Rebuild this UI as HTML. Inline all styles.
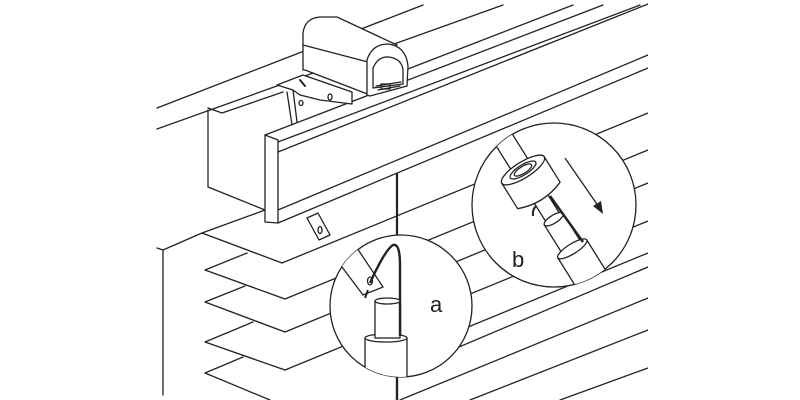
<!DOCTYPE html>
<html><head><meta charset="utf-8"><style>
html,body{margin:0;padding:0;background:#fff;}
svg{display:block}
</style></head><body>
<svg width="800" height="400" viewBox="0 0 800 400" xmlns="http://www.w3.org/2000/svg">
<defs>
<clipPath id="ca"><circle cx="401" cy="306" r="71"/></clipPath>
<clipPath id="cb"><circle cx="554" cy="205" r="82"/></clipPath>
<clipPath id="pg"><rect x="0" y="0" width="648" height="400"/></clipPath>
</defs>
<rect width="800" height="400" fill="#fff"/>
<g clip-path="url(#pg)" stroke="#222" stroke-width="1.3" fill="none" stroke-linecap="round" stroke-linejoin="round">
<!-- top long lines -->
<line x1="157" y1="108" x2="423" y2="5"/>
<line x1="157" y1="129" x2="503" y2="5"/>
<line x1="395" y1="74" x2="573" y2="5"/>
<line x1="265" y1="135" x2="603" y2="5"/>
<line x1="278" y1="142" x2="640" y2="5"/>
<line x1="278" y1="152" x2="648" y2="4"/>
<line x1="278" y1="210" x2="648" y2="55"/>
<line x1="278" y1="223" x2="648" y2="68"/>
<!-- slat lines to right -->
<line x1="282" y1="263" x2="648" y2="113"/>
<line x1="285" y1="299" x2="648" y2="150"/>
<line x1="285" y1="332" x2="648" y2="183"/>
<line x1="285" y1="370" x2="648" y2="221"/>
<line x1="400" y1="355" x2="648" y2="253"/>
<line x1="400" y1="372" x2="648" y2="267"/>
<line x1="400" y1="400" x2="648" y2="298"/>
<line x1="470" y1="400" x2="648" y2="330"/>
<line x1="560" y1="400" x2="648" y2="368"/>
<!-- left headrail box -->
<line x1="163" y1="250" x2="163" y2="395"/>
<polyline points="157,248 163,250 202,233 265,210"/>
<polyline points="208,110 208,187 265,210"/>
<polyline points="208,108 222,113 283,92"/>
<line x1="287" y1="92" x2="292" y2="125"/>
<!-- slats zigzag -->
<polyline points="202,233 282,263"/>
<polyline points="247,253 205,270 285,299"/>
<polyline points="245,286 205,302 285,332"/>
<polyline points="253,322 205,342 285,370"/>
<polyline points="243,357 205,373 270,400"/>
<!-- valance end face -->
<polygon points="265,135 278,140 278,223 265,222" fill="#fff"/>
<!-- tab below valance -->
<polygon points="307,218 318,213 330,235 319,240" fill="#fff"/>
<ellipse cx="320" cy="230" rx="2" ry="3.5"/>
<!-- cord -->
<line x1="397" y1="174" x2="397" y2="400" stroke-width="2.2"/>
<!-- bracket -->
<polygon points="277,85 303,75 352,92 352,104 320,100 300,95 293,90" fill="#fff"/>
<polyline points="293,90 297,122"/>
<ellipse cx="301" cy="103" rx="2" ry="2.5"/>
<ellipse cx="330" cy="97" rx="2" ry="3"/>
<line x1="300" y1="80" x2="305" y2="86" stroke-width="2"/>
<!-- motor box -->
<path d="M303,70 L303,33 Q305,18 320,17 L337,17 L397,45 L370,95 L305,70 Z" fill="#fff"/>
<path d="M303,45 L368,62"/>
<path d="M367,95 L367,60 Q372,44 388,44 Q406,46 408,66 L407,86 L370,96 Z" fill="#fff"/>
<path d="M373,88 L373,68 Q378,56 389,57 Q402,59 403,70 L403,84 Z"/>
<path d="M376,86 L401,82 M378,90 L400,86"/>
<rect x="381" y="84" width="9" height="5"/>
</g>
<!-- circle b -->
<circle cx="554" cy="205" r="82" fill="#fff" stroke="#222" stroke-width="1.3"/>
<g clip-path="url(#cb)" stroke="#222" stroke-width="1.3" fill="#fff" stroke-linejoin="round">
<g transform="translate(523,170) rotate(-32)">
<rect x="-10" y="-80" width="20" height="80"/>
<rect x="-8" y="28" width="16" height="30"/>
<path d="M-25,0 L-25,30 Q0,40 25,30 L25,0 Z"/>
<ellipse cx="0" cy="0" rx="25" ry="8"/>
<ellipse cx="0" cy="0" rx="15" ry="5"/>
<ellipse cx="0" cy="0" rx="10" ry="3.5"/>
<rect x="-11" y="58" width="22" height="36"/>
<ellipse cx="0" cy="58" rx="11" ry="4"/>
<rect x="-17" y="93" width="34" height="90"/>
<ellipse cx="0" cy="93" rx="17" ry="5"/>
</g>
<line x1="550" y1="196" x2="583" y2="242" stroke-width="2.4"/>
<path d="M533,216 Q532,210 536,206" stroke-width="2" fill="none"/>
<line x1="565" y1="158" x2="601" y2="210" fill="none"/>
<polygon points="603,214 593,206 601,201" fill="#222" stroke="none"/>
</g>
<text x="512" y="267" font-family="Liberation Sans, sans-serif" font-size="22" fill="#222">b</text>
<!-- circle a -->
<circle cx="401" cy="306" r="71" fill="#fff" stroke="#222" stroke-width="1.3"/>
<g clip-path="url(#ca)" stroke="#222" stroke-width="1.3" fill="#fff">
<polygon points="330,250 357,248 383,287 363,295 342,267"/>
<ellipse cx="370" cy="281" rx="2.5" ry="4" fill="none"/>
<path d="M365,298 L368,290" stroke-width="2" fill="none"/>
<path d="M370,283 Q385,250 393,245 Q400,243 400,265 L400,334" stroke-width="2.4" fill="none"/>
<rect x="365" y="338" width="42" height="50"/>
<ellipse cx="386" cy="338" rx="21" ry="4"/>
<rect x="375" y="301" width="25" height="37"/>
<ellipse cx="387.5" cy="301" rx="12.5" ry="3"/>
<line x1="400" y1="303" x2="400" y2="336" stroke-width="2.4"/>
<line x1="397" y1="377" x2="397" y2="400" stroke-width="2.2"/>
</g>
<line x1="397" y1="377" x2="397" y2="400" stroke="#222" stroke-width="2.2"/>
<text x="430" y="312" font-family="Liberation Sans, sans-serif" font-size="22" fill="#222">a</text>
</svg>
</body></html>
